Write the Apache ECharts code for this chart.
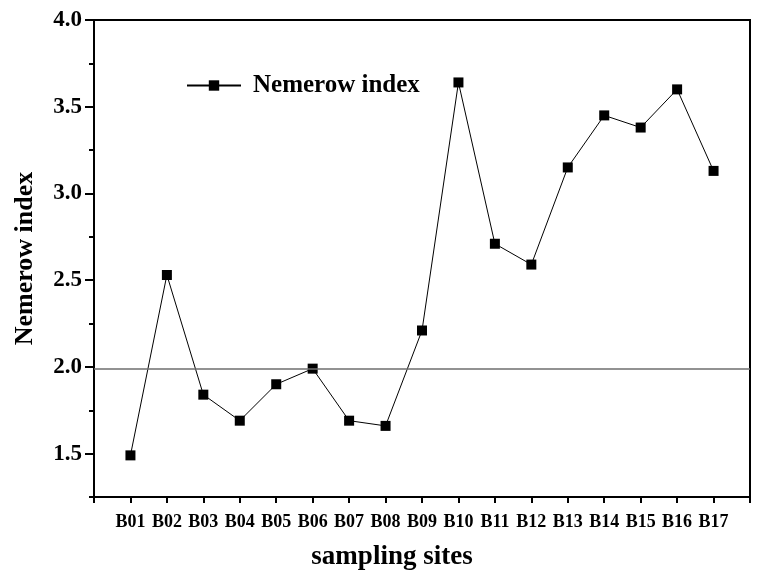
<!DOCTYPE html>
<html>
<head>
<meta charset="utf-8">
<script src="https://cdn.jsdelivr.net/npm/echarts@6/dist/echarts.min.js"></script>
<style>
  html, body { margin: 0; padding: 0; background: #fff; }
  #main { width: 757px; height: 576px; }
</style>
</head>
<body>
<div id="main"></div>
<script>
// sampling sites
var sites = ['B01', 'B02', 'B03', 'B04', 'B05', 'B06', 'B07', 'B08', 'B09',
  'B10', 'B11', 'B12', 'B13', 'B14', 'B15', 'B16', 'B17']
// Nemerow index per site
var nemerow = [1.49, 2.53, 1.84, 1.69, 1.90, 1.99, 1.69, 1.66, 2.21,
  3.64, 2.71, 2.59, 3.15, 3.45, 3.38, 3.60, 3.13]
// reference level line
var refLevel = [1.99]
// y tick labels (major) and minor ticks
var yMajor = [1.5, 2.0, 2.5, 3.0, 3.5, 4.0]
var yMinor = [1.25, 1.75, 2.25, 2.75, 3.25, 3.75]

var font = 'Liberation Serif'
// empty slots at both ends so ticks sit on the frame edges
var xCats = [''].concat(sites, [''])

var chart = echarts.init(document.getElementById('main'))

var option = {
  backgroundColor: '#fff',
  animation: false,
  grid: {
    left: 94, right: 7, top: 20, bottom: 76,
    show: true,
    borderColor: '#000',
    borderWidth: 2
  },
  legend: {
    left: 181,
    top: 68,
    itemWidth: 54,
    itemHeight: 13,
    data: ['Nemerow index'],
    textStyle: {
      fontFamily: font,
      fontWeight: 'bold',
      fontSize: 25,
      color: '#000',
      padding: [0, 0, 0, 7]
    }
  },
  xAxis: {
    type: 'category',
    data: xCats,
    boundaryGap: false,
    name: 'sampling sites',
    nameLocation: 'middle',
    nameGap: 47,
    nameTextStyle: {
      fontFamily: font, fontWeight: 'bold', fontSize: 27, color: '#000',
      padding: [0, 60, 0, 0]
    },
    axisLine: { lineStyle: { color: '#000', width: 2 } },
    axisTick: { show: true, alignWithLabel: true, interval: 0, length: 6,
      lineStyle: { color: '#000', width: 2 } },
    axisLabel: {
      interval: 0, margin: 16,
      fontFamily: font, fontWeight: 'bold', fontSize: 18, color: '#000'
    },
    splitLine: { show: false }
  },
  yAxis: [{
    type: 'value',
    min: 1.25,
    max: 4.0,
    name: 'Nemerow index',
    nameLocation: 'middle',
    nameGap: 56,
    nameTextStyle: { fontFamily: font, fontWeight: 'bold', fontSize: 26, color: '#000' },
    axisLine: { show: true, lineStyle: { color: '#000', width: 2 } },
    axisTick: { show: true, length: 9, customValues: yMajor,
      lineStyle: { color: '#000', width: 2 } },
    axisLabel: {
      customValues: yMajor, margin: 12,
      fontFamily: font, fontWeight: 'bold', fontSize: 23, color: '#000',
      formatter: function (v) { return v.toFixed(1) }
    },
    splitLine: { show: false }
  }, {
    type: 'value',
    min: 1.25,
    max: 4.0,
    position: 'left',
    axisLine: { show: false },
    axisTick: { show: true, length: 5, customValues: yMinor,
      lineStyle: { color: '#000', width: 2 } },
    axisLabel: { show: false },
    splitLine: { show: false }
  }],
  series: [{
    name: 'Nemerow index',
    type: 'line',
    data: sites.map(function (s, i) { return [s, nemerow[i]] }),
    symbol: 'rect',
    symbolSize: 10,
    itemStyle: { color: '#000' },
    lineStyle: { color: '#000', width: 1 },
    markLine: {
      silent: true,
      symbol: 'none',
      label: { show: false },
      lineStyle: { color: '#6e6e6e', width: 1.5, type: 'solid' },
      data: refLevel.map(function (v) { return { yAxis: v } })
    }
  }]
}

chart.setOption(option)
</script>
</body>
</html>
